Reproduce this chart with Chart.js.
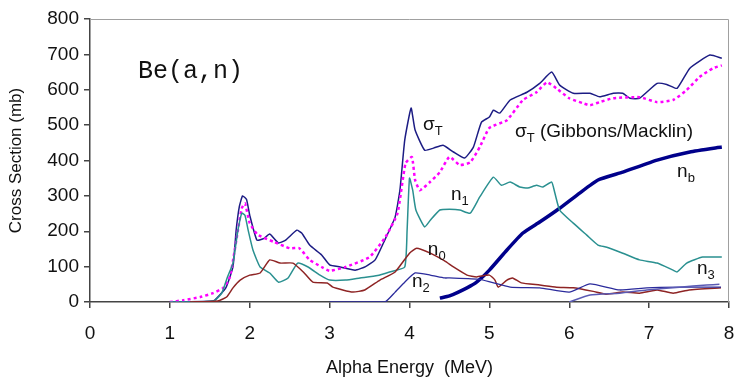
<!DOCTYPE html>
<html>
<head>
<meta charset="utf-8">
<script src="https://cdn.jsdelivr.net/npm/chart.js@4.4.1/dist/chart.umd.min.js"></script>
<style>
  html, body { margin: 0; padding: 0; background: #fff; }
  #wrap { width: 734px; height: 383px; }
</style>
</head>
<body>
<div id="wrap"><canvas id="xsChart" width="734" height="383"></canvas></div>
<script>
// values: alpha energy (MeV) vs cross section (mb)
const sigmaT_E = [1.0, 1.5, 1.56, 1.7, 1.79, 1.83, 1.87, 1.91, 1.96, 2.0, 2.09, 2.18, 2.25, 2.36, 2.45, 2.59, 2.65, 2.75, 2.9, 3.0, 3.13, 3.32, 3.45, 3.57, 3.69, 3.82, 3.88, 3.94, 4.02, 4.07, 4.19, 4.3, 4.42, 4.55, 4.69, 4.8, 4.9, 5.0, 5.05, 5.13, 5.26, 5.47, 5.63, 5.78, 5.88, 6.05, 6.26, 6.38, 6.55, 6.67, 6.76, 6.88, 7.1, 7.22, 7.35, 7.51, 7.76, 7.91];
const sigmaT_V = [0, 2, 5, 40, 100, 203, 270, 300, 290, 245, 175, 180, 192, 167, 175, 203, 195, 161, 133, 105, 99, 90, 100, 119, 175, 240, 316, 457, 548, 486, 429, 435, 443, 424, 407, 438, 508, 523, 542, 534, 571, 593, 618, 650, 613, 590, 590, 580, 590, 590, 576, 576, 618, 615, 604, 661, 698, 689];

const gibbons_E = [1.0, 1.17, 1.38, 1.54, 1.67, 1.75, 1.8, 1.85, 1.9, 1.94, 2.0, 2.1, 2.3, 2.5, 2.62, 2.75, 2.9, 3.0, 3.2, 3.5, 3.7, 3.85, 3.95, 4.03, 4.07, 4.13, 4.26, 4.38, 4.5, 4.63, 4.76, 4.88, 5.0, 5.22, 5.42, 5.59, 5.72, 5.84, 6.0, 6.17, 6.26, 6.38, 6.55, 6.88, 7.1, 7.3, 7.47, 7.63, 7.8, 7.91];
const gibbons_V = [0, 5, 14, 25, 40, 70, 130, 200, 265, 279, 223, 190, 170, 152, 152, 119, 99, 88, 99, 127, 184, 251, 392, 410, 345, 316, 340, 367, 410, 387, 395, 438, 492, 514, 571, 593, 621, 604, 576, 562, 556, 565, 576, 579, 565, 571, 599, 636, 661, 669];

const n1_E = [1.0, 1.55, 1.65, 1.72, 1.79, 1.85, 1.9, 1.94, 1.98, 2.04, 2.13, 2.25, 2.36, 2.48, 2.6, 2.73, 2.88, 3.0, 3.2, 3.38, 3.6, 3.75, 3.94, 3.97, 4.0, 4.04, 4.08, 4.19, 4.26, 4.38, 4.5, 4.63, 4.76, 4.88, 5.05, 5.15, 5.26, 5.38, 5.48, 5.59, 5.67, 5.78, 5.82, 5.88, 6.05, 6.22, 6.36, 6.47, 6.67, 6.88, 7.1, 7.3, 7.35, 7.47, 7.67, 7.91];
const n1_V = [0, 3, 25, 70, 110, 200, 251, 245, 203, 147, 99, 82, 56, 68, 110, 99, 76, 62, 62, 68, 75, 85, 99, 203, 350, 316, 260, 212, 231, 260, 262, 260, 251, 297, 353, 330, 339, 325, 322, 330, 325, 339, 308, 260, 223, 189, 161, 155, 138, 119, 110, 90, 85, 110, 127, 127];

const n0_E = [1.25, 1.6, 1.71, 1.79, 1.88, 2.0, 2.13, 2.25, 2.38, 2.54, 2.67, 2.79, 2.97, 3.04, 3.29, 3.44, 3.63, 3.82, 4.0, 4.09, 4.26, 4.44, 4.55, 4.72, 4.84, 5.0, 5.07, 5.11, 5.22, 5.29, 5.4, 5.63, 5.84, 6.05, 6.3, 6.47, 6.67, 6.88, 7.1, 7.3, 7.5, 7.9];
const n0_V = [0, 3, 14, 40, 62, 76, 82, 119, 110, 110, 85, 56, 54, 42, 28, 34, 62, 85, 138, 152, 138, 116, 99, 76, 71, 76, 62, 42, 62, 68, 54, 48, 42, 40, 30, 22, 28, 25, 34, 25, 34, 40];

const n2_E = [3.0, 3.69, 3.82, 3.94, 4.07, 4.26, 4.44, 4.5, 4.88, 5.26, 5.63, 6.0, 6.26, 6.63, 6.97, 7.38, 7.9];
const n2_V = [0, 0, 28, 56, 82, 76, 68, 68, 64, 42, 40, 28, 51, 34, 40, 42, 42];

const n3_E = [6.0, 6.26, 6.63, 6.97, 7.38, 7.72, 7.88];
const n3_V = [0, 20, 25, 34, 42, 48, 50];

const nb_E = [4.38, 4.5, 4.72, 4.84, 5.0, 5.22, 5.42, 5.63, 5.88, 6.13, 6.36, 6.67, 7.1, 7.51, 7.91];
const nb_V = [11, 17, 40, 56, 90, 147, 195, 226, 265, 308, 345, 367, 401, 424, 438];

// curve labels, placed in data units (left edge, vertical middle)
const curveLabels = [
    { main: 'σ', sub: 'T', rest: '', x: 4.17, y: 500 },
    { main: 'σ', sub: 'T', rest: ' (Gibbons/Macklin)', x: 5.32, y: 480 },
    { main: 'n', sub: '1', rest: '', x: 4.52, y: 302 },
    { main: 'n', sub: 'b', rest: '', x: 7.35, y: 367 },
    { main: 'n', sub: '0', rest: '', x: 4.23, y: 147 },
    { main: 'n', sub: '2', rest: '', x: 4.03, y: 56 },
    { main: 'n', sub: '3', rest: '', x: 7.6, y: 93 }
];

function pts(xs, ys) {
    return xs.map((x, i) => ({ x: x, y: ys[i] }));
}

function series(label, xs, ys, color, width, dash) {
    return {
        label: label,
        data: pts(xs, ys),
        borderColor: color,
        borderWidth: width,
        borderDash: dash || [],
        pointRadius: 0,
        tension: 0.15,
        fill: false
    };
}

const labelPlugin = {
    id: 'curveLabels',
    afterDatasetsDraw(chart) {
        const ctx = chart.ctx;
        const xs = chart.scales.x;
        const ys = chart.scales.y;
        const area = chart.chartArea;
        ctx.save();
        // light box on top and right
        ctx.strokeStyle = '#a0a0a0';
        ctx.lineWidth = 1;
        ctx.beginPath();
        ctx.moveTo(area.left, area.top + 0.5);
        ctx.lineTo(area.right - 0.5, area.top + 0.5);
        ctx.lineTo(area.right - 0.5, area.bottom);
        ctx.stroke();

        ctx.fillStyle = '#111';
        ctx.textBaseline = 'middle';
        ctx.font = '25px "Liberation Mono", "DejaVu Sans Mono", monospace';
        ctx.fillText('Be(a,n)', xs.getPixelForValue(0.6), ys.getPixelForValue(652));

        curveLabels.forEach(l => {
            let px = xs.getPixelForValue(l.x);
            const py = ys.getPixelForValue(l.y);
            ctx.font = '19px "Liberation Sans", Arial, sans-serif';
            ctx.fillText(l.main, px, py);
            px += ctx.measureText(l.main).width;
            ctx.font = '13px "Liberation Sans", Arial, sans-serif';
            ctx.fillText(l.sub, px, py + 6);
            px += ctx.measureText(l.sub).width;
            if (l.rest) {
                ctx.font = '19px "Liberation Sans", Arial, sans-serif';
                ctx.fillText(l.rest, px, py);
            }
        });
        ctx.restore();
    }
};

const ctx = document.getElementById('xsChart').getContext('2d');
new Chart(ctx, {
    type: 'line',
    data: {
        datasets: [
            series('n3', n3_E, n3_V, '#5a5ab4', 1.5),
            series('n2', n2_E, n2_V, '#2b2b9c', 1.3),
            series('n0', n0_E, n0_V, '#8e2424', 1.5),
            series('n1', n1_E, n1_V, '#2a9090', 1.5),
            series('nb', nb_E, nb_V, '#00008b', 3.5),
            series('Gibbons/Macklin', gibbons_E, gibbons_V, '#ff00ff', 2.5, [3, 3]),
            series('sigmaT', sigmaT_E, sigmaT_V, '#1c1c84', 1.5)
        ]
    },
    options: {
        responsive: false,
        animation: false,
        layout: { padding: { left: 0, right: 5, top: 19, bottom: 0 } },
        plugins: {
            legend: { display: false },
            tooltip: { enabled: false }
        },
        scales: {
            x: {
                type: 'linear',
                min: 0,
                max: 8,
                afterFit: (axis) => {
                    axis.height = 81;
                    axis.paddingLeft = 0;
                    axis.paddingRight = 0;
                },
                ticks: {
                    stepSize: 1,
                    color: '#111',
                    padding: 14,
                    font: { family: '"Liberation Sans", Arial, sans-serif', size: 19 }
                },
                grid: { drawOnChartArea: false, drawTicks: true, tickLength: 6, color: '#444', lineWidth: 1.5 },
                border: { color: '#444', width: 1.5 },
                title: {
                    display: true,
                    text: 'Alpha Energy  (MeV)',
                    color: '#111',
                    padding: { top: 11 },
                    font: { family: '"Liberation Sans", Arial, sans-serif', size: 18 }
                }
            },
            y: {
                min: 0,
                max: 800,
                afterFit: (axis) => { axis.width = 90; },
                ticks: {
                    stepSize: 100,
                    color: '#111',
                    padding: 5,
                    font: { family: '"Liberation Sans", Arial, sans-serif', size: 19 }
                },
                grid: { drawOnChartArea: false, drawTicks: true, tickLength: 6, color: '#444', lineWidth: 1.5 },
                border: { color: '#444', width: 1.5 },
                title: {
                    display: true,
                    text: 'Cross Section (mb)',
                    color: '#111',
                    padding: { top: 6, bottom: 2 },
                    font: { family: '"Liberation Sans", Arial, sans-serif', size: 17 }
                }
            }
        }
    },
    plugins: [labelPlugin]
});
</script>
</body>
</html>
